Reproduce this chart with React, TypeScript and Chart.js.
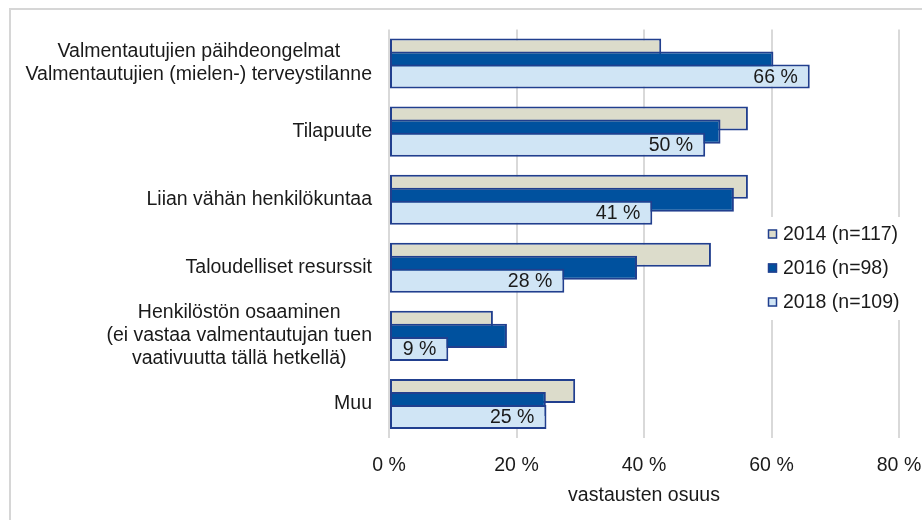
import React, { useEffect, useRef } from 'react';
import { Chart, registerables } from 'chart.js';

Chart.register(...registerables);

// ---- data ----
const categories: string[][] = [
  ['Valmentautujien päihdeongelmat', 'Valmentautujien (mielen-) terveystilanne'],
  ['Tilapuute'],
  ['Liian vähän henkilökuntaa'],
  ['Taloudelliset resurssit'],
  ['Henkilöstön osaaminen', '(ei vastaa valmentautujan tuen', 'vaativuutta tällä hetkellä)'],
  ['Muu'],
];
const series2014 = [42.7, 56.3, 56.3, 50.5, 16.3, 29.2];
const series2016 = [60.3, 52.0, 54.1, 38.9, 18.5, 24.6];
const series2018 = [66.0, 49.6, 41.3, 27.5, 9.3, 24.7];
const seriesNames = ['2014 (n=117)', '2016 (n=98)', '2018 (n=109)'];
const xTicks = [0, 20, 40, 60, 80];
const xTitle = 'vastausten osuus';

// ---- styles ----
const FONT_FAMILY = '"Liberation Sans", Arial, sans-serif';
const FONT_SIZE = 19.5;
const TEXT_COLOR = '#1a1a1a';
const BORDER_COLOR = '#213f8e';
const FILLS = ['#dcdccb', '#00519e', '#d0e5f5'];

const drawOrderPlugin = {
  id: 'drawOrder',
  beforeDatasetsDraw(chart: any) {
    for (let i = 0; i < chart.data.datasets.length; i++) {
      const meta = chart.getDatasetMeta(i);
      if (!meta.hidden) meta.controller.draw();
    }
    return false;
  },
};

const framePlugin = {
  id: 'frame',
  beforeDraw(chart: any) {
    const ctx = chart.ctx;
    ctx.save();
    ctx.fillStyle = '#ffffff';
    ctx.fillRect(0, 0, chart.width, chart.height);
    ctx.strokeStyle = '#d6d6d6';
    ctx.lineWidth = 2;
    ctx.beginPath();
    ctx.moveTo(10, chart.height);
    ctx.lineTo(10, 9);
    ctx.lineTo(chart.width, 9);
    ctx.stroke();
    ctx.restore();
  },
};

const yLabelPlugin = {
  id: 'yLabels',
  afterDraw(chart: any) {
    const ctx = chart.ctx;
    const yScale = chart.scales.y;
    const rightEdge = 372;
    const lineH = 23;
    ctx.save();
    ctx.font = `${FONT_SIZE}px ${FONT_FAMILY}`;
    ctx.fillStyle = TEXT_COLOR;
    ctx.textAlign = 'center';
    ctx.textBaseline = 'middle';
    categories.forEach((lines, i) => {
      const cy = yScale.getPixelForValue(i);
      const w = Math.max(...lines.map((l) => ctx.measureText(l).width));
      const cx = rightEdge - w / 2;
      lines.forEach((l, j) => {
        ctx.fillText(l, cx, cy + (j - (lines.length - 1) / 2) * lineH);
      });
    });
    ctx.restore();
  },
};

const dataLabelPlugin = {
  id: 'dataLabels',
  afterDraw(chart: any) {
    const ctx = chart.ctx;
    const meta = chart.getDatasetMeta(2);
    ctx.save();
    ctx.font = `${FONT_SIZE}px ${FONT_FAMILY}`;
    ctx.fillStyle = TEXT_COLOR;
    ctx.textAlign = 'right';
    ctx.textBaseline = 'middle';
    meta.data.forEach((el: any, i: number) => {
      ctx.fillText(`${Math.round(series2018[i])} %`, el.x - 12, el.y + 1);
    });
    ctx.restore();
  },
};

const legendPlugin = {
  id: 'customLegend',
  afterDraw(chart: any) {
    const ctx = chart.ctx;
    const x0 = 762;
    const top = 217;
    const rowH = 34;
    ctx.save();
    ctx.fillStyle = '#ffffff';
    ctx.fillRect(x0, top, 150, 103);
    ctx.font = `${FONT_SIZE}px ${FONT_FAMILY}`;
    ctx.textAlign = 'left';
    ctx.textBaseline = 'middle';
    seriesNames.forEach((name, i) => {
      const cy = top + 17 + i * rowH;
      ctx.fillStyle = FILLS[i];
      ctx.fillRect(768, cy - 4.5, 9, 9);
      ctx.strokeStyle = BORDER_COLOR;
      ctx.lineWidth = 1.5;
      ctx.strokeRect(768.5, cy - 4, 8, 8);
      ctx.fillStyle = TEXT_COLOR;
      ctx.fillText(name, 783, cy + 1);
    });
    ctx.restore();
  },
};

export default function App() {
  const canvasRef = useRef<HTMLCanvasElement | null>(null);

  useEffect(() => {
    const canvas = canvasRef.current;
    if (!canvas) return;
    const seriesValues = [series2014, series2016, series2018];
    const chart = new Chart(canvas, {
      type: 'bar',
      data: {
        labels: categories.map((c) => c.join(' ')),
        datasets: seriesNames.map((name, i) => ({
          label: name,
          data: seriesValues[i],
          backgroundColor: FILLS[i],
          borderColor: BORDER_COLOR,
          borderWidth: 2,
          borderSkipped: false,
          categoryPercentage: 0.573,
          barPercentage: 1.846,
        })),
      },
      options: {
        indexAxis: 'y',
        responsive: false,
        animation: false,
        devicePixelRatio: 1,
        layout: { padding: { top: 29.5, right: 23, left: 0, bottom: 0 } },
        plugins: {
          legend: { display: false },
          tooltip: { enabled: false },
        },
        scales: {
          x: {
            min: 0,
            max: 80,
            afterBuildTicks: (s: any) => {
              s.ticks = xTicks.map((v) => ({ value: v }));
            },
            ticks: {
              callback: (v: any) => `${v} %`,
              font: { family: FONT_FAMILY, size: FONT_SIZE },
              color: TEXT_COLOR,
              padding: 16,
              maxRotation: 0,
            },
            grid: { color: '#d9d9d9', lineWidth: 2, drawTicks: false },
            border: { display: false },
            title: {
              display: true,
              text: xTitle,
              font: { family: FONT_FAMILY, size: FONT_SIZE },
              color: TEXT_COLOR,
              padding: { top: 0, bottom: 13 },
            },
            afterFit: (s: any) => {
              s.height = 82;
              s.paddingLeft = 0;
              s.paddingRight = 0;
            },
          },
          y: {
            ticks: { display: false },
            grid: { display: false },
            border: { display: false },
            afterFit: (s: any) => {
              s.width = 389;
            },
          },
        },
      } as any,
      plugins: [framePlugin, drawOrderPlugin, yLabelPlugin, dataLabelPlugin, legendPlugin],
    });
    return () => chart.destroy();
  }, []);

  return (
    <div style={{ position: 'fixed', left: 0, top: 0, width: 922, height: 520, background: '#fff' }}>
      <canvas ref={canvasRef} width={922} height={520} style={{ display: 'block' }} />
    </div>
  );
}
